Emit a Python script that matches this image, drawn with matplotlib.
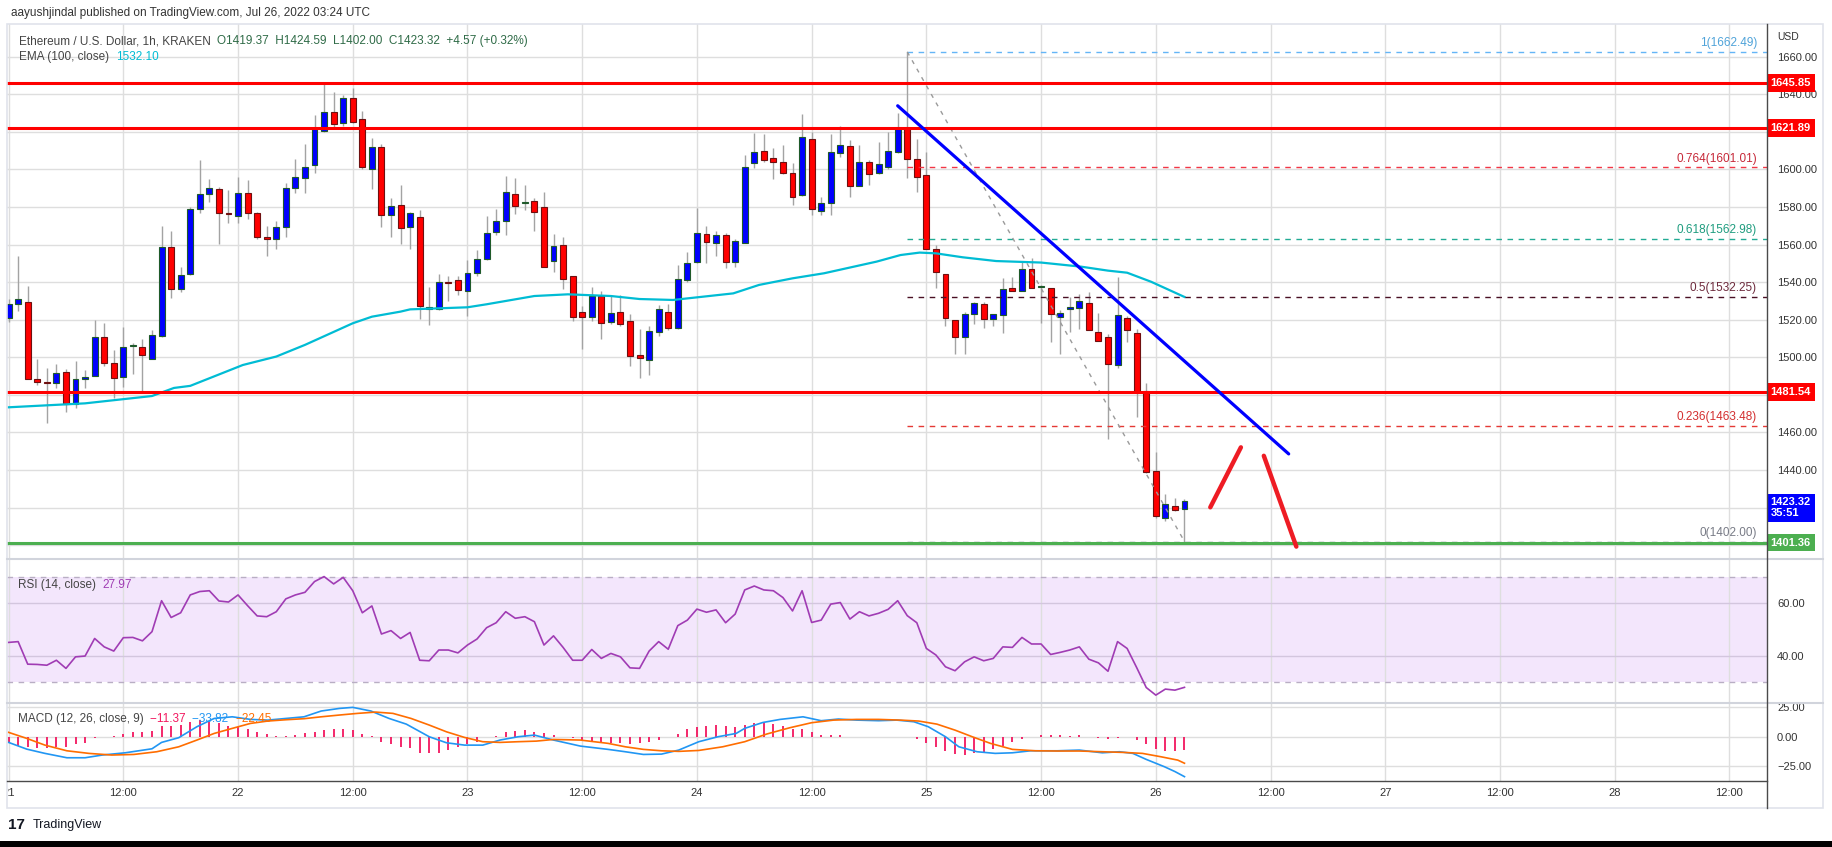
import numpy as np
import matplotlib.pyplot as plt
from matplotlib.transforms import blended_transform_factory, Bbox
from matplotlib.patches import Rectangle
from matplotlib.lines import Line2D

plt.rcParams['font.family'] = ['Liberation Sans', 'DejaVu Sans']

# ---- hourly ETH/USD candles, Jul 21 00:00 -> Jul 26 03:00 (index = hour) ----
opens = [1520.7, 1528.2, 1529.3, 1488.3, 1486.8, 1486.2, 1492.0, 1475.2, 1488.3, 1490.1,
         1510.6, 1497.2, 1489.4, 1506.0, 1505.3, 1498.9, 1511.3, 1558.9, 1536.5, 1544.1,
         1578.7, 1586.7, 1589.5, 1576.6, 1575.2, 1587.2, 1576.6, 1563.8, 1562.8, 1569.1,
         1589.9, 1595.2, 1602.1, 1620.4, 1630.7, 1624.5, 1637.8, 1626.6, 1600.0, 1612.1,
         1575.5, 1580.9, 1569.1, 1574.5, 1525.5, 1525.5, 1540.0, 1541.0, 1535.1, 1544.7,
         1552.1, 1566.8, 1572.3, 1586.7, 1582.1, 1583.0, 1580.0, 1551.4, 1559.6, 1543.1,
         1523.9, 1521.3, 1532.6, 1519.0, 1523.9, 1519.3, 1501.2, 1498.6, 1513.3, 1523.9,
         1515.4, 1541.1, 1550.5, 1565.4, 1561.0, 1565.1, 1550.9, 1561.0, 1603.2, 1609.8,
         1605.9, 1603.7, 1597.9, 1586.2, 1616.0, 1578.0, 1581.9, 1608.9, 1612.4, 1591.3,
         1603.7, 1597.9, 1601.4, 1609.0, 1621.8, 1605.5, 1596.8, 1557.4, 1544.1, 1519.9,
         1510.6, 1522.9, 1528.2, 1520.2, 1522.3, 1536.7, 1535.3, 1546.8, 1537.2, 1536.7,
         1521.6, 1525.5, 1526.1, 1528.7, 1513.7, 1511.0, 1495.9, 1521.1, 1513.1, 1482.1,
         1439.7, 1414.7, 1421.1, 1419.37]
highs = [1531.0, 1553.9, 1537.9, 1499.1, 1494.1, 1496.5, 1493.6, 1498.0, 1493.3, 1519.9,
         1518.1, 1503.9, 1516.3, 1507.4, 1509.6, 1514.5, 1569.9, 1567.2, 1547.9, 1580.1,
         1605.0, 1594.9, 1590.4, 1589.0, 1595.7, 1594.3, 1577.5, 1569.9, 1572.5, 1592.6,
         1605.5, 1613.5, 1628.9, 1646.6, 1641.0, 1639.5, 1643.1, 1631.0, 1616.5, 1613.5,
         1584.6, 1591.7, 1577.2, 1578.4, 1537.6, 1544.3, 1543.0, 1543.3, 1551.8, 1557.1,
         1575.4, 1578.9, 1596.5, 1595.6, 1591.7, 1584.8, 1588.0, 1565.6, 1564.2, 1543.1,
         1527.3, 1537.6, 1535.5, 1533.2, 1533.2, 1523.0, 1514.9, 1516.7, 1527.8, 1528.2,
         1549.1, 1556.2, 1579.6, 1569.9, 1567.2, 1566.0, 1562.9, 1607.6, 1619.5, 1618.8,
         1611.2, 1612.9, 1603.2, 1629.4, 1620.0, 1585.5, 1618.8, 1623.0, 1615.6, 1612.9,
         1605.0, 1614.7, 1620.0, 1629.8, 1662.49, 1616.1, 1609.4, 1559.8, 1544.1, 1519.9,
         1524.3, 1529.3, 1529.3, 1522.9, 1542.0, 1542.9, 1550.9, 1552.7, 1538.5, 1536.7,
         1525.0, 1531.9, 1533.5, 1534.6, 1523.4, 1512.4, 1542.6, 1522.0, 1514.9, 1486.2,
         1449.8, 1427.1, 1425.4, 1424.59]
lows = [1519.0, 1524.8, 1488.3, 1485.3, 1464.9, 1483.5, 1471.1, 1473.2, 1483.5, 1490.1,
        1495.4, 1478.5, 1484.4, 1491.1, 1482.1, 1498.9, 1511.0, 1531.7, 1534.9, 1543.6,
        1577.0, 1582.8, 1560.1, 1571.3, 1571.3, 1573.4, 1563.1, 1554.1, 1557.4, 1564.2,
        1587.2, 1587.2, 1597.9, 1620.0, 1622.7, 1623.0, 1624.5, 1600.0, 1589.5, 1569.5,
        1564.2, 1560.1, 1557.6, 1520.4, 1517.2, 1525.2, 1530.1, 1533.2, 1522.0, 1543.3,
        1551.8, 1565.0, 1565.0, 1576.2, 1578.4, 1567.2, 1547.9, 1545.6, 1536.2, 1519.5,
        1504.6, 1519.5, 1509.9, 1517.7, 1516.8, 1495.4, 1489.0, 1490.4, 1511.5, 1514.5,
        1515.0, 1540.2, 1550.2, 1550.4, 1553.9, 1547.7, 1548.2, 1560.8, 1600.5, 1604.1,
        1595.0, 1597.5, 1581.0, 1586.0, 1575.7, 1575.7, 1575.7, 1606.4, 1585.1, 1591.0,
        1591.7, 1597.5, 1600.2, 1608.8, 1595.2, 1588.1, 1557.4, 1536.7, 1516.7, 1501.6,
        1501.6, 1517.6, 1515.4, 1516.8, 1512.8, 1535.1, 1535.1, 1536.7, 1518.1, 1508.3,
        1501.6, 1513.7, 1514.9, 1514.5, 1508.9, 1456.4, 1494.1, 1508.3, 1468.1, 1438.3,
        1414.4, 1413.0, 1418.0, 1402.00]
closes = [1528.2, 1530.9, 1488.7, 1487.1, 1486.3, 1491.5, 1475.2, 1488.3, 1489.4, 1510.6,
          1496.8, 1488.8, 1505.3, 1506.4, 1501.1, 1511.7, 1558.9, 1536.2, 1543.6, 1578.7,
          1586.7, 1589.9, 1576.6, 1576.2, 1587.2, 1576.6, 1563.8, 1563.1, 1569.5, 1589.9,
          1596.1, 1601.4, 1621.5, 1630.7, 1623.9, 1637.8, 1625.0, 1601.4, 1612.1, 1575.5,
          1580.7, 1568.6, 1576.6, 1527.5, 1526.6, 1539.9, 1539.7, 1535.6, 1544.7, 1552.1,
          1566.0, 1572.3, 1587.8, 1580.3, 1582.4, 1577.5, 1547.9, 1559.2, 1541.5, 1521.3,
          1521.3, 1532.6, 1518.1, 1523.4, 1517.9, 1500.5, 1499.5, 1514.2, 1525.5, 1515.4,
          1541.5, 1550.0, 1566.0, 1561.5, 1565.1, 1550.9, 1561.9, 1601.4, 1609.0, 1605.0,
          1604.1, 1597.9, 1585.1, 1617.4, 1578.7, 1581.9, 1609.4, 1612.9, 1591.3, 1603.7,
          1597.3, 1602.7, 1609.8, 1621.8, 1605.3, 1595.7, 1557.4, 1545.2, 1520.7, 1511.0,
          1522.9, 1528.7, 1520.2, 1522.9, 1536.2, 1535.1, 1546.8, 1536.7, 1537.4, 1522.9,
          1523.6, 1527.0, 1530.0, 1514.5, 1508.9, 1496.5, 1522.5, 1514.5, 1481.7, 1439.0,
          1415.6, 1421.8, 1418.75, 1423.32]

# EMA(100): (hour, value)
ema_h = [0, 8, 15, 17.3, 19, 24.5, 28, 31, 36, 38, 41, 42, 48, 50, 55, 58.5, 63, 66, 69.5,
         75.8, 78.5, 82, 85.3, 90.8, 93.3, 95.3, 97, 99.8, 103.3, 108, 112.2, 115, 117,
         119.5, 123]
ema_v = [1473.4, 1475.5, 1479.4, 1483.7, 1484.8, 1495.9, 1500.4, 1506.6, 1518.1, 1521.6,
         1524.3, 1525.5, 1526.6, 1528.2, 1532.6, 1533.5, 1532.6, 1531.0, 1530.5, 1534.0,
         1538.5, 1542.0, 1544.7, 1550.9, 1554.4, 1555.7, 1555.3, 1553.2, 1551.2, 1550.4,
         1548.2, 1546.1, 1545.0, 1540.2, 1532.10]

# RSI(14), one value per candle
rsi = [45.1, 45.4, 36.8, 36.7, 36.4, 38.3, 35.2, 39.6, 39.9, 46.6,
       43.4, 41.8, 46.9, 47.0, 45.7, 49.2, 61.0, 54.6, 56.4, 63.2,
       64.5, 64.8, 60.9, 60.5, 63.2, 59.1, 55.2, 54.9, 56.8, 61.7,
       63.2, 64.2, 68.3, 70.2, 67.4, 69.9, 64.8, 56.4, 59.0, 48.3,
       49.6, 46.6, 48.9, 38.3, 38.1, 42.2, 42.2, 41.1, 44.1, 46.4,
       50.7, 52.6, 56.8, 54.3, 54.9, 53.0, 44.1, 47.6, 43.2, 38.3,
       38.3, 42.4, 39.0, 40.9, 39.6, 35.4, 35.2, 41.8, 45.4, 42.5,
       51.5, 53.6, 57.8, 56.6, 57.5, 52.6, 55.9, 65.1, 66.6, 65.1,
       64.8, 62.2, 57.1, 64.8, 52.7, 53.6, 59.7, 60.3, 54.0, 56.8,
       55.2, 56.2, 57.7, 61.0, 55.3, 52.6, 42.8, 40.3, 35.8, 34.3,
       37.7, 39.6, 38.1, 39.0, 43.4, 43.2, 47.0, 44.5, 44.5, 40.5,
       41.3, 42.2, 43.4, 38.7, 37.3, 34.1, 45.4, 42.8, 35.5, 27.9,
       25.0, 27.3, 26.9, 27.97]

# MACD(12, 26, 9) histogram, one value per candle
hist = [-5.6, -7.9, -8.5, -9.9, -9.9, -9.0, -8.5, -6.5, -5.1, -0.8,
        0.0, 0.3, 2.3, 3.7, 4.2, 5.1, 9.3, 9.3, 9.9, 12.1,
        14.1, 12.1, 11.3, 9.3, 8.5, 6.5, 4.2, 2.3, 0.8, 0.6,
        1.4, 3.4, 4.2, 5.6, 6.5, 6.5, 5.6, 2.3, 0.8, -4.2,
        -6.5, -9.0, -9.3, -13.6, -14.1, -13.6, -11.3, -8.5, -6.5, -4.2,
        0.0, 0.8, 4.2, 4.8, 5.6, 4.2, 2.8, 1.4, -0.6, -1.4,
        -2.8, -4.2, -5.1, -5.6, -5.6, -6.2, -5.6, -4.2, -2.8, 0.0,
        2.3, 6.2, 8.5, 9.3, 9.9, 9.3, 7.9, 9.9, 11.3, 11.3,
        10.7, 9.0, 6.5, 6.5, 3.7, 1.4, 1.4, 1.4, 0.0, -0.6,
        -0.6, -0.6, -0.6, 0.0, 0.0, -2.0, -5.1, -8.5, -11.9, -14.7,
        -15.5, -14.1, -13.6, -10.5, -7.6, -4.8, -2.0, 0.0, 1.1, 1.4,
        1.4, 0.8, 1.4, 0.0, -0.8, -2.0, -0.8, 0.0, -2.8, -6.5,
        -10.5, -11.9, -12.1, -11.37]

# MACD and signal lines: (hour, value)
macd_h = [0, 1.9, 3.8, 6.1, 8.0, 9.8, 12.2, 15.0, 16.0, 17.8, 19.7, 21.5, 23.4, 25.3, 27.1,
          29.0, 30.9, 32.7, 34.6, 36.0, 37.9, 39.8, 41.6, 44.0, 45.8, 47.7, 49.6, 51.4,
          53.3, 55.0, 57.0, 59.8, 62.7, 64.5, 66.4, 68.3, 70.1, 72.2, 74.2, 76.1, 77.0,
          78.9, 80.7, 83.1, 85.0, 86.8, 88.7, 91.0, 92.9, 94.7, 96.2, 98.0, 99.4, 101.3,
          103.2, 105.0, 106.9, 109.7, 112.0, 114.4, 116.2, 117.6, 119.0, 120.9, 122.0, 123]
macd_v = [-4.8, -10.5, -14.1, -17.8, -17.8, -15.5, -13.6, -10.2, -4.8, -0.8, 8.5, 15.5,
          16.9, 14.7, 14.1, 15.5, 16.9, 21.8, 24.0, 24.9, 21.8, 15.5, 10.7, 0.0, -5.1,
          -7.1, -7.1, -2.8, 0.0, 1.4, -2.8, -7.9, -10.7, -12.7, -15.0, -14.7, -11.3, -4.2,
          0.0, 2.8, 7.1, 12.1, 14.7, 16.9, 13.6, 15.0, 14.1, 13.6, 14.1, 12.7, 8.5, 0.0,
          -8.5, -12.7, -14.1, -13.6, -11.9, -11.9, -11.3, -13.6, -12.7, -14.1, -19.2,
          -25.4, -29.5, -33.82]
signal_h = [0, 1.9, 3.8, 6.1, 8.4, 10.8, 13.1, 15.5, 17.8, 19.7, 21.5, 23.4, 25.3, 27.1,
            29.0, 30.9, 32.7, 34.6, 36.5, 38.4, 40.2, 42.1, 44.0, 45.8, 47.7, 49.6, 51.4,
            53.3, 55.2, 57.0, 59.8, 62.7, 64.5, 66.4, 68.3, 70.1, 72.2, 74.7, 77.0, 79.3,
            81.7, 84.0, 86.3, 88.7, 91.0, 93.3, 95.2, 97.1, 99.0, 100.8, 102.7, 105.0,
            107.4, 109.7, 112.0, 114.4, 116.7, 118.6, 120.5, 122.3, 123]
signal_v = [3.7, -1.4, -7.1, -11.9, -14.1, -15.5, -15.0, -12.7, -8.5, -2.8, 2.8, 7.1, 11.3,
            13.3, 14.4, 15.3, 16.9, 18.4, 19.8, 20.9, 19.8, 15.5, 9.9, 4.2, -0.6, -4.2,
            -4.8, -4.2, -3.7, -2.3, -2.8, -5.6, -8.5, -10.7, -11.9, -12.4, -11.6, -8.5,
            -4.2, 2.3, 7.6, 11.9, 14.1, 14.7, 14.7, 14.1, 13.3, 10.7, 5.6, 0.0, -5.6,
            -10.7, -11.9, -12.1, -12.1, -12.7, -13.3, -14.1, -16.9, -19.8, -22.45]

# horizontal levels and drawings
resistance = [1645.85, 1621.89, 1481.54]
support = 1401.36
fib_ratios = [1, 0.764, 0.618, 0.5, 0.236, 0]
fib_prices = [1662.49, 1601.01, 1562.98, 1532.25, 1463.48, 1402.00]
fib_line_colors = ['#64b5f6', '#f23645', '#22ab94', '#4a1024', '#e53935', '#787b86']
fib_text_colors = ['#4fa3d9', '#c62838', '#1e9c7f', '#6d2a3c', '#d32f2f', '#787b86']
trend_h, trend_p = [93.0, 133.9], [1633.8, 1448.6]
arrow_up_h, arrow_up_p = [125.7, 128.9], [1420.2, 1452.1]
arrow_dn_h, arrow_dn_p = [131.3, 134.7], [1447.6, 1399.3]

tick_hours = list(range(0, 181, 12))
tick_names = ['21', '12:00', '22', '12:00', '23', '12:00', '24', '12:00',
              '25', '12:00', '26', '12:00', '27', '12:00', '28', '12:00']

opens, highs, lows, closes = map(np.array, (opens, highs, lows, closes))
hrs = np.arange(len(closes))

# ---------------- layout (pixels of the 1833x847 image) ----------------
W, H = 1833, 847
fig = plt.figure(figsize=(W / 100, H / 100), dpi=100)


def fx(x):
    return x / W


def fy(y):
    return 1 - y / H


def add_ax(x0, y0, x1, y1):
    return fig.add_axes([fx(x0), fy(y1), (x1 - x0) / W, (y1 - y0) / H])


L, R = 7, 1767
ax = add_ax(L, 24, R, 559)
ax_rsi = add_ax(L, 559, R, 703)
ax_macd = add_ax(L, 703, R, 781)
xlim = ((L - 8.6) / 9.56, (R - 8.6) / 9.56)

for a in (ax, ax_rsi, ax_macd):
    a.set_xlim(*xlim)
    a.set_xticks(tick_hours)
    a.yaxis.tick_right()
    a.tick_params(length=0, labelsize=8, labelcolor='#333333')
    a.tick_params(axis='y', pad=7.2)
    a.tick_params(axis='x', pad=5)
    a.grid(color='#dedede', lw=1)
    a.set_axisbelow(True)
    for s in a.spines.values():
        s.set_visible(False)
ax.tick_params(labelbottom=False)
ax_rsi.tick_params(labelbottom=False)
ax_macd.set_xticklabels(tick_names)
# the "21" label is cut by the left frame in the original
for lbl in ax_macd.get_xticklabels():
    lbl.set_clip_on(True)
    lbl.set_clip_box(Bbox.from_extents(L + 1, 0, W, H))

# ---------------- price panel ----------------
ax.set_ylim(1392.7, 1677.3)
ax.set_yticks(np.arange(1400, 1661, 20))
tag_prices = resistance + [support, closes[-1]]


def price_fmt(v, pos):
    # the scale hides labels that sit under a coloured price tag
    if min(abs(v - t) for t in tag_prices) < 5.5:
        return ''
    return f'{v:.2f}'


ax.yaxis.set_major_formatter(price_fmt)

up = closes >= opens
ax.vlines(hrs, lows, highs, color='#a3a3a3', lw=1, zorder=2)
ax.bar(hrs, np.maximum(np.abs(closes - opens), 0.5), bottom=np.minimum(opens, closes),
       width=0.62, color=np.where(up, '#0000ff', '#ff0000'),
       edgecolor=np.where(up, '#1f5a2a', '#6e1010'), lw=0.8, zorder=3)

ax.plot(ema_h, ema_v, color='#00bcd4', lw=1.6, zorder=4)

for p in resistance:
    ax.axhline(p, color='#ff0000', lw=2.2, zorder=5)
ax.axhline(support, color='#4caf50', lw=2.2, zorder=5)

peak = int(np.argmax(highs))
blend = blended_transform_factory(ax.transAxes, ax.transData)
for r, p, lc, tc in zip(fib_ratios, fib_prices, fib_line_colors, fib_text_colors):
    ax.plot([peak, xlim[1]], [p, p], color=lc, lw=1, ls=(0, (4, 4)), zorder=4)
    ax.annotate(f'{r:g}({p:.2f})', xy=(1, p), xycoords=blend, xytext=(-7.2, 2),
                textcoords='offset points', ha='right', va='bottom', fontsize=8.5,
                color=tc, zorder=6)
ax.plot([peak, hrs[-1]], [highs[peak], lows[-1]], color='#9a9a9a', lw=1,
        ls=(0, (3, 4)), zorder=4)

ax.plot(trend_h, trend_p, color='#0000ff', lw=2.3, solid_capstyle='round', zorder=6)
ax.plot(arrow_up_h, arrow_up_p, color='#ee1c24', lw=3.2, solid_capstyle='round', zorder=6)
ax.plot(arrow_dn_h, arrow_dn_p, color='#ee1c24', lw=3.2, solid_capstyle='round', zorder=6)


def price_tag(y, text, color, dy=0):
    ax.annotate(text, xy=(1, y), xycoords=blend, xytext=(2.6, dy),
                textcoords='offset points', ha='left', va='center', fontsize=8,
                fontweight='bold', color='white', annotation_clip=False, zorder=10,
                linespacing=1.1,
                bbox=dict(boxstyle='square,pad=0.34', fc=color, ec='none'))


for p in resistance:
    price_tag(p, f'{p:.2f}', '#ff0000')
price_tag(support, f'{support:.2f}', '#4caf50')
price_tag(closes[-1], f'{closes[-1]:.2f}\n35:51', '#0000ff', dy=-4.6)

# ---------------- RSI panel ----------------
ax_rsi.set_ylim(22.0, 76.9)
ax_rsi.set_yticks([40, 60])
ax_rsi.yaxis.set_major_formatter('{x:.2f}')
ax_rsi.grid(axis='y', color='#d3c6de')
ax_rsi.axhspan(30, 70, color='#f3e6fc', lw=0, zorder=0)
for lvl in (30, 70):
    ax_rsi.axhline(lvl, color='#b9aec4', lw=1, ls=(0, (4, 4)), zorder=1)
ax_rsi.plot(hrs, rsi, color='#a03cb4', lw=1.2, zorder=3)

# ---------------- MACD panel ----------------
ax_macd.set_ylim(-37.5, 28.6)
ax_macd.set_yticks([-25, 0, 25])
ax_macd.yaxis.set_major_formatter('{x:.2f}')
ax_macd.vlines(hrs, 0, hist, color='#f2175f', lw=1.3, zorder=2)
ax_macd.plot(macd_h, macd_v, color='#2196f3', lw=1.2, zorder=3)
ax_macd.plot(signal_h, signal_v, color='#ff6d00', lw=1.2, zorder=3)

# ---------------- frame, separators ----------------
fig.add_artist(Rectangle((fx(L), fy(808)), (1823 - L) / W, (808 - 24) / H,
                         transform=fig.transFigure, fill=False, ec='#e0e3eb', lw=1.2))
for y in (559, 703):
    fig.add_artist(Line2D([fx(L), fx(1823)], [fy(y), fy(y)], transform=fig.transFigure,
                          color='#d1d4dc', lw=1.5))
fig.add_artist(Line2D([fx(L), fx(R)], [fy(781), fy(781)], transform=fig.transFigure,
                      color='#4a4a4a', lw=1))
fig.add_artist(Line2D([fx(R), fx(R)], [fy(24), fy(808)], transform=fig.transFigure,
                      color='#4a4a4a', lw=1))
fig.add_artist(Rectangle((0, 0), 1, 6 / H, transform=fig.transFigure, fc='black', ec='none'))

# ---------------- texts ----------------
renderer = fig.canvas.get_renderer()


def text_run(x, y, parts, size=8.5):
    for s, c in parts:
        t = fig.text(fx(x), fy(y), s, color=c, va='center', ha='left', fontsize=size)
        x += t.get_window_extent(renderer).width


fig.text(fx(11), fy(13), 'aayushjindal published on TradingView.com, Jul 26, 2022 03:24 UTC',
         fontsize=8.5, va='center', color='#333333')
chg = closes[-1] - closes[-2]
text_run(19, 41, [('Ethereum / U.S. Dollar, 1h, KRAKEN  ', '#444444'),
                  (f'O{opens[-1]:.2f}  H{highs[-1]:.2f}  L{lows[-1]:.2f}  C{closes[-1]:.2f}  '
                   f'+{chg:.2f} (+{chg / closes[-2] * 100:.2f}%)', '#2f6b47')])
text_run(19, 57, [('EMA (100, close)  ', '#444444'), (f'{ema_v[-1]:.2f}', '#00bcd4')])
text_run(18, 585, [('RSI (14, close)  ', '#444444'), (f'{rsi[-1]:.2f}', '#a03cb4')])
text_run(18, 719, [('MACD (12, 26, close, 9)  ', '#444444'),
                   (f'\u2212{abs(hist[-1]):.2f}  ', '#f2175f'),
                   (f'\u2212{abs(macd_v[-1]):.2f}  ', '#2196f3'),
                   (f'\u2212{abs(signal_v[-1]):.2f}', '#ff6d00')])
fig.text(fx(1777), fy(37), 'USD', fontsize=7.5, va='center', color='#333333')
fig.text(fx(8), fy(825), '17', fontsize=11, fontweight='heavy', va='center', color='#131722')
fig.text(fx(33), fy(825), 'TradingView', fontsize=9, va='center', color='#131722')

fig.savefig('out.png', dpi=100)
